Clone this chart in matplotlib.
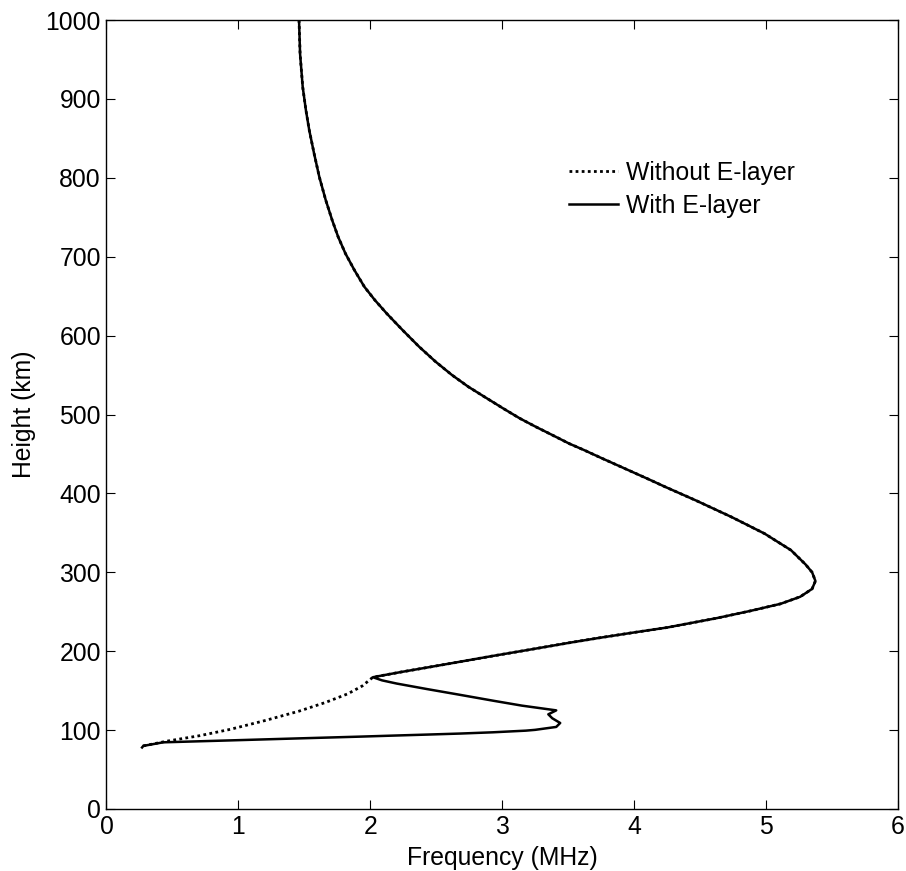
import matplotlib
matplotlib.use("Agg")
import matplotlib.pyplot as plt

plt.rcParams['font.family'] = ['Liberation Sans', 'DejaVu Sans']

# Shared F-layer profile (height km, plasma frequency MHz), top down to valley cusp
f_layer_height = [1000, 957, 915, 886, 860, 831, 801, 772, 746, 725, 704, 683, 662, 645,
                  628, 607, 586, 567, 550, 535, 522, 508, 495, 484, 474, 463, 455, 445,
                  436, 427, 418, 408, 391, 370, 349, 328, 310, 300, 289, 279, 269, 260,
                  251, 242, 230, 224, 217, 211, 202, 194, 187.5, 179, 173.5, 167]
f_layer_freq = [1.46, 1.468, 1.488, 1.512, 1.538, 1.574, 1.614, 1.662, 1.712, 1.757, 1.812,
                1.880, 1.955, 2.035, 2.125, 2.245, 2.370, 2.495, 2.620, 2.745, 2.870, 3.005,
                3.135, 3.260, 3.380, 3.510, 3.620, 3.750, 3.870, 3.990, 4.110, 4.240, 4.470,
                4.740, 4.990, 5.190, 5.300, 5.350, 5.375, 5.350, 5.260, 5.110, 4.880, 4.630,
                4.250, 4.010, 3.740, 3.520, 3.210, 2.930, 2.710, 2.420, 2.230, 2.020]

# Below the cusp: without E-layer
noE_height = [156, 146, 135, 124, 112, 101, 93, 86, 80, 78]
noE_freq = [1.94, 1.83, 1.66, 1.46, 1.20, 0.94, 0.71, 0.46, 0.28, 0.27]

# Below the cusp: with E-layer
E_height = [163, 159, 152, 145, 137, 131, 125, 120, 115, 109, 104, 100.3, 99.3, 97.2, 95.6,
            94.3, 93.0, 91.7, 89.4, 86.9, 84.5, 80, 78]
E_freq = [2.09, 2.20, 2.43, 2.67, 2.94, 3.15, 3.41, 3.35, 3.38, 3.44, 3.41, 3.25, 3.18, 2.93,
          2.68, 2.43, 2.17, 1.92, 1.44, 0.93, 0.43, 0.28, 0.27]

labels = ['Without E-layer', 'With E-layer']
x_ticks = [0, 1, 2, 3, 4, 5, 6]
y_ticks = [0, 100, 200, 300, 400, 500, 600, 700, 800, 900, 1000]

fig = plt.figure(figsize=(9.06, 8.71), dpi=100)
ax = fig.add_axes([0.1175, 0.0712, 0.991 - 0.1175, 0.977 - 0.0712])

h_without = f_layer_height + noE_height
f_without = f_layer_freq + noE_freq
h_with = f_layer_height + E_height
f_with = f_layer_freq + E_freq

ax.plot(f_with, h_with, color='black', lw=1.8, linestyle='-', label=labels[1], zorder=2,
        solid_joinstyle='round')
ax.plot(f_without, h_without, color='black', lw=2.0, linestyle=(0, (1, 1.2)), label=labels[0], zorder=3)

ax.set_xlim(0, 6)
ax.set_ylim(0, 1000)
ax.set_xticks(x_ticks)
ax.set_yticks(y_ticks)
ax.tick_params(direction='in', length=6.5, width=0.8, top=True, right=True,
               labelsize=17.8, pad=4)
for s in ax.spines.values():
    s.set_linewidth(1.0)
    s.set_color('black')

ax.set_xlabel('Frequency (MHz)', fontsize=17.8, labelpad=5.5)
ax.set_ylabel('Height (km)', fontsize=17.8, labelpad=7)

handles, labs = ax.get_legend_handles_labels()
order = [1, 0]
leg = ax.legend([handles[i] for i in order], [labs[i] for i in order],
                frameon=False, fontsize=17.8, loc='upper left',
                bbox_to_anchor=(569 / 906, 1 - 161 / 871), bbox_transform=fig.transFigure,
                borderpad=0, borderaxespad=0, handlelength=2.0, handletextpad=0.3,
                labelspacing=0.35)

fig.savefig('out.png', dpi=100)
